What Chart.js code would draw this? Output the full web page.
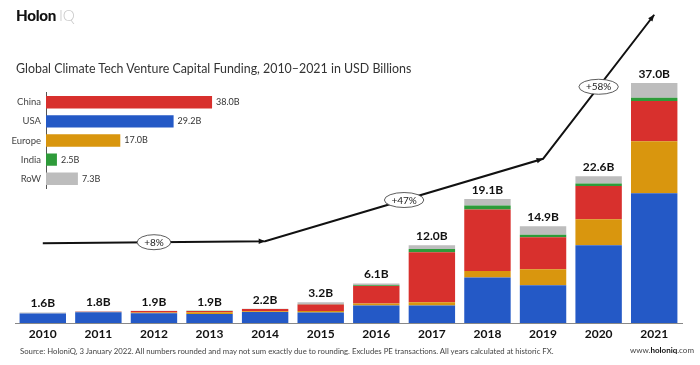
<!DOCTYPE html>
<html>
<head>
<meta charset="utf-8">
<script src="https://cdn.jsdelivr.net/npm/chart.js@4.4.1/dist/chart.umd.min.js"></script>
<style>
  html, body { margin: 0; padding: 0; background: #fff; }
  #wrap { position: relative; width: 700px; height: 365px; overflow: hidden; font-family: Lato, "Liberation Sans", sans-serif; }
  #main { position: absolute; left: 0; top: 0; width: 700px; height: 365px; }
  #inset { position: absolute; left: 0; top: 82px; width: 280px; height: 117px; }
  .logo { position: absolute; left: 16px; top: 6px; font-size: 15.2px; font-weight: 900; color: #111; letter-spacing: -0.3px; }
  .logo span { font-weight: 300; color: #c8c8c8; margin-left: 3px; }
  .title { position: absolute; left: 16px; top: 61px; font-size: 12.4px; color: #333; white-space: nowrap; }
  .source { position: absolute; left: 20px; top: 346px; font-size: 7.75px; color: #444; white-space: nowrap; }
  .web { position: absolute; right: 6px; top: 345px; font-size: 8px; color: #444; }
  .web b { color: #111; }
</style>
</head>
<body>
<div id="wrap">
  <div id="main"><canvas id="mainChart"></canvas></div>
  <div class="logo">Holon<span>IQ</span></div>
  <div class="title">Global Climate Tech Venture Capital Funding, 2010–2021 in USD Billions</div>
  <div id="inset"><canvas id="insetChart"></canvas></div>
  <div class="source">Source: HoloniQ, 3 January 2022. All numbers rounded and may not sum exactly due to rounding. Excludes PE transactions. All years calculated at historic FX.</div>
  <div class="web">www.<b>holoniq</b>.com</div>
</div>
<script>
"use strict";

const $ = (id) => document.getElementById(id);

// yearly funding by region, USD billions
const years   = ["2010", "2011", "2012", "2013", "2014", "2015", "2016", "2017", "2018", "2019", "2020", "2021"];
const usa     = [1.45, 1.65, 1.50, 1.40, 1.70, 1.60, 2.70, 2.70, 7.00, 5.80, 12.0, 20.0];
const europe  = [0.00, 0.05, 0.10, 0.25, 0.10, 0.25, 0.30, 0.50, 1.00, 2.50, 4.00, 8.00];
const china   = [0.00, 0.05, 0.25, 0.20, 0.35, 1.00, 2.70, 7.70, 9.50, 4.90, 5.10, 6.20];
const india   = [0.00, 0.00, 0.00, 0.02, 0.02, 0.05, 0.10, 0.50, 0.60, 0.40, 0.40, 0.50];
const row     = [0.15, 0.05, 0.05, 0.03, 0.03, 0.30, 0.30, 0.60, 1.00, 1.30, 1.10, 2.30];
const totals  = [1.6, 1.8, 1.9, 1.9, 2.2, 3.2, 6.1, 12.0, 19.1, 14.9, 22.6, 37.0];

// growth arrow: y positions of the arrow path (in billions on the same scale)
const trend        = [12.3, null, null, null, 12.6, null, null, null, null, 25.3, null, 47.5];
const growthLabels = ["+8%", "+47%", "+58%"];

// cumulative 2010-2021 totals by region
const regions      = ["China", "USA", "Europe", "India", "RoW"];
const regionTotals = [38.0, 29.2, 17.0, 2.5, 7.3];

const C = { usa: "#2459c6", europe: "#d9960e", china: "#d8302d", india: "#2e9b3a", row: "#bdbdbd" };
const FONT = "Lato, 'Liberation Sans', sans-serif";

const totalsPlugin = {
  id: "totals",
  afterDatasetsDraw(chart) {
    const { ctx } = chart;
    const ys = chart.scales.y;
    ctx.save();
    ctx.font = `bold 12px ${FONT}`;
    ctx.fillStyle = "#111";
    ctx.textAlign = "center";
    ctx.textBaseline = "bottom";
    const meta = chart.getDatasetMeta(0);
    totals.forEach((t, i) => {
      const sum = usa[i] + europe[i] + china[i] + india[i] + row[i];
      ctx.fillText(t.toFixed(1) + "B", meta.data[i].x, ys.getPixelForValue(sum) - 3);
    });
    ctx.restore();
  },
};

const arrowPlugin = {
  id: "arrows",
  afterDatasetsDraw(chart) {
    const { ctx } = chart;
    const idx = chart.data.datasets.findIndex((d) => d.type === "line");
    const pts = chart.getDatasetMeta(idx).data.filter((p, i) => trend[i] !== null);
    ctx.save();
    for (let k = 1; k < pts.length; k++) {
      const a = pts[k - 1], b = pts[k];
      const ang = Math.atan2(b.y - a.y, b.x - a.x);
      ctx.fillStyle = "#111";
      ctx.beginPath();
      ctx.moveTo(b.x, b.y);
      ctx.lineTo(b.x - 7 * Math.cos(ang - 0.4), b.y - 7 * Math.sin(ang - 0.4));
      ctx.lineTo(b.x - 7 * Math.cos(ang + 0.4), b.y - 7 * Math.sin(ang + 0.4));
      ctx.closePath();
      ctx.fill();
      // growth label in an ellipse at segment midpoint
      const mx = (a.x + b.x) / 2, my = (a.y + b.y) / 2;
      const lbl = growthLabels[k - 1];
      ctx.font = `10px ${FONT}`;
      const w = ctx.measureText(lbl).width / 2 + 7;
      ctx.beginPath();
      ctx.ellipse(mx, my, w, 7.5, 0, 0, Math.PI * 2);
      ctx.fillStyle = "#fff";
      ctx.fill();
      ctx.strokeStyle = "#333";
      ctx.lineWidth = 0.8;
      ctx.stroke();
      ctx.fillStyle = "#222";
      ctx.textAlign = "center";
      ctx.textBaseline = "middle";
      ctx.fillText(lbl, mx, my + 0.5);
    }
    ctx.restore();
  },
};

const bar = (label, data, color) => ({ label, data, backgroundColor: color, stack: "s", yAxisID: "y" });

new Chart($("mainChart"), {
  type: "bar",
  data: {
    labels: years,
    datasets: [
      bar("USA", usa, C.usa),
      bar("Europe", europe, C.europe),
      bar("China", china, C.china),
      bar("India", india, C.india),
      bar("RoW", row, C.row),
      { type: "line", label: "Growth", data: trend, yAxisID: "yt", borderColor: "#111", borderWidth: 2,
        pointRadius: 0, spanGaps: true, tension: 0, clip: false, order: -1 },
    ],
  },
  options: {
    responsive: true, maintainAspectRatio: false, animation: false,
    layout: { padding: { left: 15, right: 18, top: 11.5, bottom: 0 } },
    plugins: { legend: { display: false }, tooltip: { enabled: false } },
    datasets: { bar: { categoryPercentage: 1, barPercentage: 0.835 } },
    scales: {
      x: {
        stacked: true,
        grid: { display: false, drawTicks: false },
        border: { display: true, color: "#888", width: 1 },
        ticks: { color: "#111", font: { family: FONT, size: 12, weight: "bold" }, padding: 4, autoSkip: false, maxRotation: 0 },
        afterFit(s) { s.height = 42; },
      },
      y: { stacked: true, display: false, min: 0, max: 48 },
      yt: { display: false, min: 0, max: 48 },
    },
  },
  plugins: [totalsPlugin, arrowPlugin],
});

const insetLabels = {
  id: "insetLabels",
  afterDatasetsDraw(chart) {
    const { ctx } = chart;
    ctx.save();
    ctx.font = `9px ${FONT}`;
    ctx.fillStyle = "#333";
    ctx.textBaseline = "middle";
    chart.getDatasetMeta(0).data.forEach((b, i) => {
      ctx.fillText(regionTotals[i].toFixed(1) + "B", b.x + 4, b.y);
    });
    ctx.restore();
  },
};

new Chart($("insetChart"), {
  type: "bar",
  data: {
    labels: regions,
    datasets: [{ data: regionTotals, backgroundColor: [C.china, C.usa, C.europe, C.india, C.row] }],
  },
  options: {
    indexAxis: "y", responsive: true, maintainAspectRatio: false, animation: false,
    layout: { padding: { left: 0, right: 15.5, top: 0.7, bottom: 0.8 } },
    plugins: { legend: { display: false }, tooltip: { enabled: false } },
    datasets: { bar: { categoryPercentage: 1, barPercentage: 0.65 } },
    scales: {
      x: { display: false, min: 0, max: 50 },
      y: {
        grid: { display: false, drawTicks: false },
        border: { display: true, color: "#555", width: 1 },
        ticks: { color: "#444", font: { family: FONT, size: 9.5 }, padding: 5 },
        afterFit(s) { s.width = 46; },
      },
    },
  },
  plugins: [insetLabels],
});
</script>
</body>
</html>
